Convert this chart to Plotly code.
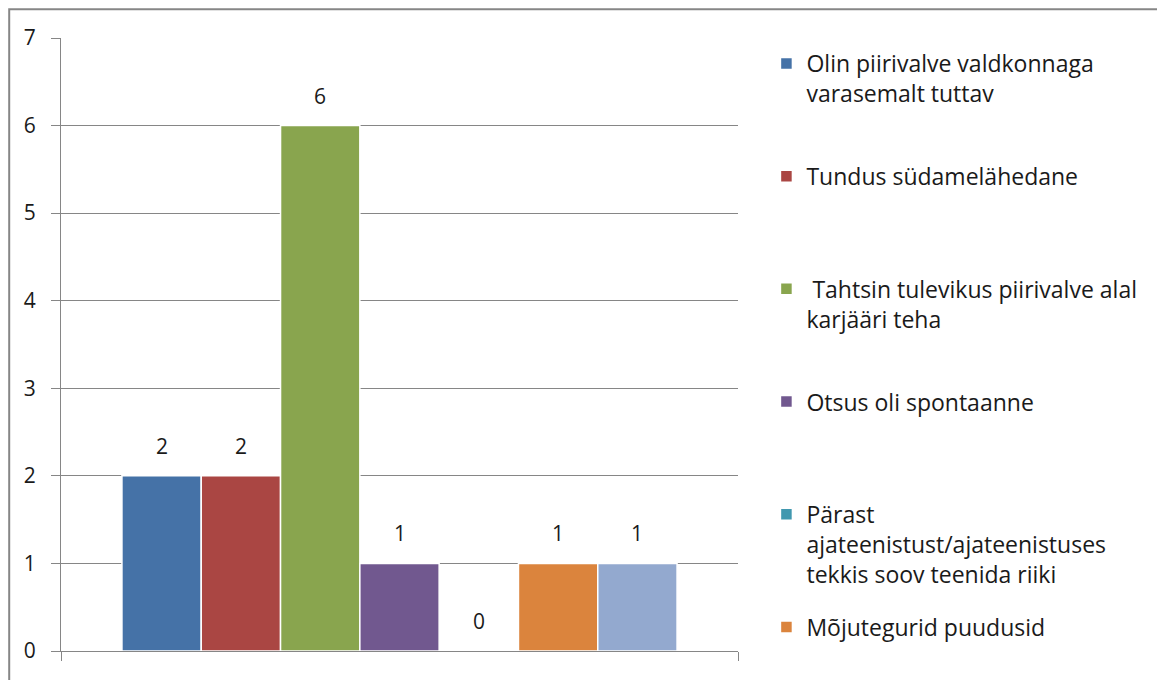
import plotly.graph_objects as go

# survey answers (one category, one series per answer)
series_names = [
    "Olin piirivalve valdkonnaga<br>varasemalt tuttav",
    "Tundus südamelähedane",
    " Tahtsin tulevikus piirivalve alal<br>karjääri teha",
    "Otsus oli spontaanne",
    "Pärast<br>ajateenistust/ajateenistuses<br>tekkis soov teenida riiki",
    "Mõjutegurid puudusid",
    "Muu",
]
counts = [2, 2, 6, 1, 0, 1, 1]
colors = ["#4572A7", "#AA4643", "#89A54E", "#71588F", "#4198AF", "#DB843D", "#93A9CF"]
in_legend = [True, True, True, True, True, True, False]
category = [""]

FONT = "Open Sans"
FS = 22
GRID = "#868686"
TXT = "#1a1a1a"
BARGAP = 0.18
LEGEND_LINES = 3

fig = go.Figure()
last_shown = max(i for i, s in enumerate(in_legend) if s)
for i, (name, val, col) in enumerate(zip(series_names, counts, colors)):
    n_lines = name.count("<br>") + 1
    # pad legend labels to equal height so entries are evenly spaced
    padded = name if i >= last_shown else name + "<br> " * (LEGEND_LINES - n_lines)
    fig.add_trace(go.Bar(
        x=category, y=[val], name=padded,
        marker=dict(color=col, line=dict(color="white", width=1.5)),
        showlegend=in_legend[i], legendgroup=str(i),
        hovertemplate=name.replace("<br>", " ") + ": %{y}<extra></extra>",
    ))

# data labels, placed over each grouped bar
n = len(counts)
w = (1 - BARGAP) / n
for i, val in enumerate(counts):
    fig.add_annotation(
        x=(i - (n - 1) / 2) * w, y=val, xref="x", yref="y",
        text=str(val), showarrow=False, yshift=30,
        font=dict(family=FONT, size=FS - 1, color=TXT),
    )

# outer chart border (cut off on the right and bottom in the original)
fig.add_shape(type="rect", xref="paper", yref="paper",
              x0=-0.0765, x1=2.0, y0=-1.0, y1=1.047,
              line=dict(color=GRID, width=2), layer="above")

fig.update_layout(
    width=1165, height=680,
    margin=dict(l=53, r=435, t=30, b=37),
    paper_bgcolor="white", plot_bgcolor="white",
    barmode="group", bargap=BARGAP, bargroupgap=0,
    font=dict(family=FONT, size=FS, color=TXT),
    showlegend=True,
    legend=dict(
        x=1.042, y=0.9935, xanchor="left", yanchor="top",
        valign="top", tracegroupgap=20, itemwidth=30, maxheight=680,
        font=dict(family=FONT, size=FS + 1, color=TXT),
        bgcolor="rgba(0,0,0,0)",
    ),
    xaxis=dict(
        showticklabels=False, showline=True, linecolor=GRID, linewidth=1,
        ticks="outside", tickson="boundaries", ticklen=9, tickcolor=GRID,
        showgrid=False, fixedrange=True,
    ),
    yaxis=dict(
        range=[0, 7], dtick=1, showline=True, linecolor=GRID, linewidth=1,
        showgrid=True, gridcolor=GRID, gridwidth=1,
        ticks="outside", ticklen=9, tickcolor=GRID,
        zeroline=False, ticklabelstandoff=11,
        tickfont=dict(family=FONT, size=FS - 1, color=TXT),
    ),
)

fig.write_html("out.html")
